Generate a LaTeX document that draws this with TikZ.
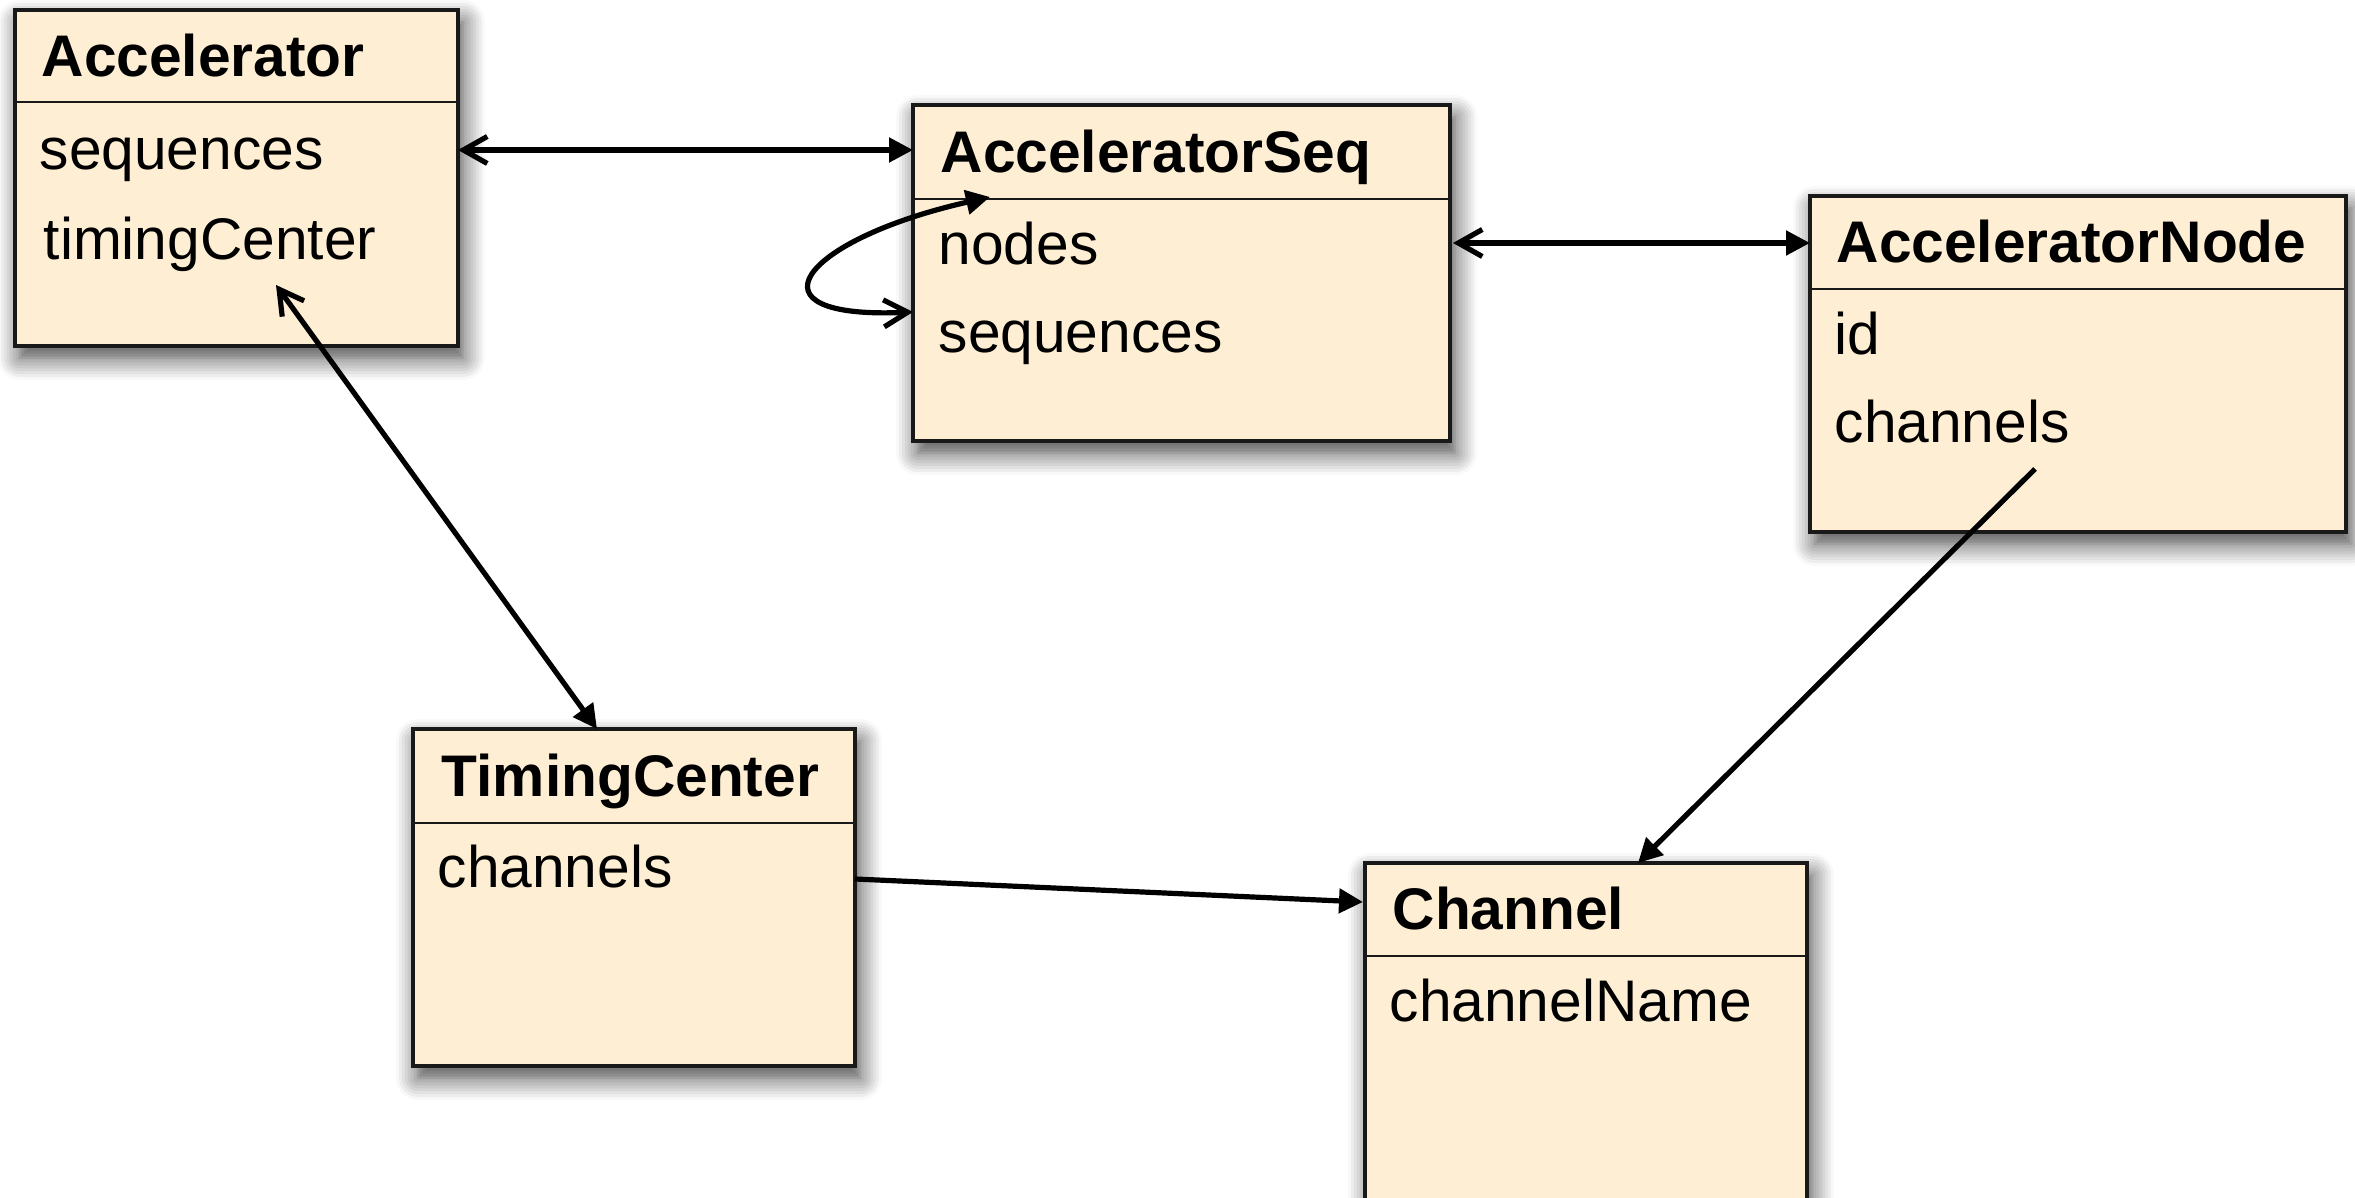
\documentclass[tikz,border=0pt]{standalone}
\usepackage{fontspec}
\setmainfont{Liberation Sans}
\usetikzlibrary{arrows.meta,calc,shadows.blur}
\definecolor{boxfill}{HTML}{FEEED3}
\tikzset{
  fullhead/.tip={Triangle[length=2.4mm,width=2.4mm]},
  openhead/.tip={Straight Barb[length=2.4mm,width=2.7mm]},
  classbox/.style={draw=black!90, line width=0.32mm, fill=boxfill, rectangle,
    anchor=north west, inner sep=0pt, outer sep=0pt,
    blur shadow={shadow xshift=0.5mm, shadow yshift=-1.2mm, shadow blur radius=2.2mm, shadow opacity=75, shadow blur steps=8}},
  divider/.style={line width=0.25mm, draw=black!90},
  titletext/.style={anchor=base west, inner sep=0pt, font=\fontsize{16.7pt}{19pt}\selectfont\bfseries},
  attrtext/.style={anchor=base west, inner sep=0pt, font=\fontsize{16.7pt}{19pt}\selectfont},
  conn/.style={line width=0.52mm, draw=black},
}
\begin{document}
\begin{tikzpicture}[x=0.1mm,y=-0.1mm]
\useasboundingbox (0,0) rectangle (2355,1198);
\clip (0,0) rectangle (2355,1198);

% boxes
\node[classbox, minimum width=44.3mm, minimum height=33.6mm] (acc) at (15,10) {};
\node[classbox, minimum width=53.7mm, minimum height=33.6mm] (seq) at (913,105) {};
\node[classbox, minimum width=53.6mm, minimum height=33.6mm] (anode) at (1810,196) {};
\node[classbox, minimum width=44.2mm, minimum height=33.7mm] (tc) at (413,729) {};
\node[classbox, minimum width=44.2mm, minimum height=34.2mm] (ch) at (1365,863) {};

% dividers
\draw[divider] ($(acc.north west)+(0,92)$) -- ($(acc.north east)+(0,92)$);
\draw[divider] ($(seq.north west)+(0,94)$) -- ($(seq.north east)+(0,94)$);
\draw[divider] ($(anode.north west)+(0,93)$) -- ($(anode.north east)+(0,93)$);
\draw[divider] ($(tc.north west)+(0,94)$) -- ($(tc.north east)+(0,94)$);
\draw[divider] ($(ch.north west)+(0,93)$) -- ($(ch.north east)+(0,93)$);

% titles
\node[titletext] (accT) at ($(acc.north west)+(26,66.5)$) {Accelerator};
\node[titletext] (seqT) at ($(seq.north west)+(27,67.5)$) {AcceleratorSeq};
\node[titletext] (anodeT) at ($(anode.north west)+(26,67)$) {AcceleratorNode};
\node[titletext] (tcT) at ($(tc.north west)+(28,67.5)$) {TimingCenter};
\node[titletext] (chT) at ($(ch.north west)+(27,67)$) {Channel};

% attributes
\node[attrtext] (accA1) at ($(acc.north west)+(24,160)$) {sequences};
\node[attrtext] (accA2) at ($(acc.north west)+(28,250)$) {timingCenter};
\node[attrtext] (seqA1) at ($(seq.north west)+(25,160)$) {nodes};
\node[attrtext] (seqA2) at ($(seq.north west)+(25,248)$) {sequences};
\node[attrtext] (anodeA1) at ($(anode.north west)+(24,159)$) {id};
\node[attrtext] (anodeA2) at ($(anode.north west)+(24,247)$) {channels};
\node[attrtext] (tcA1) at ($(tc.north west)+(24,159)$) {channels};
\node[attrtext] (chA1) at ($(ch.north west)+(24,159)$) {channelName};

% connectors
\draw[conn, openhead-fullhead] ($(acc.north east)+(0,140)$) -- ($(seq.north west)+(0,45)$);
\draw[conn, openhead-fullhead] ($(seq.north east)+(3,138)$) -- ($(anode.north west)+(0,47)$);
\draw[conn, openhead-fullhead] ($(acc.north west)+(261,275)$) -- ($(tc.north west)+(184,0)$);
\draw[conn, -fullhead] ($(anode.north west)+(225,273)$) -- ($(ch.north west)+(273,0)$);
\draw[conn, -fullhead] ($(tc.north east)+(0,150)$) -- ($(ch.north west)+(-2,39)$);
\draw[conn, fullhead-openhead] ($(seq.north west)+(77,92)$)
  .. controls ($(seq.north west)+(-113,135)$) and ($(seq.north west)+(-173,215)$)
  .. ($(seq.north west)+(0,207)$);
\end{tikzpicture}
\end{document}
